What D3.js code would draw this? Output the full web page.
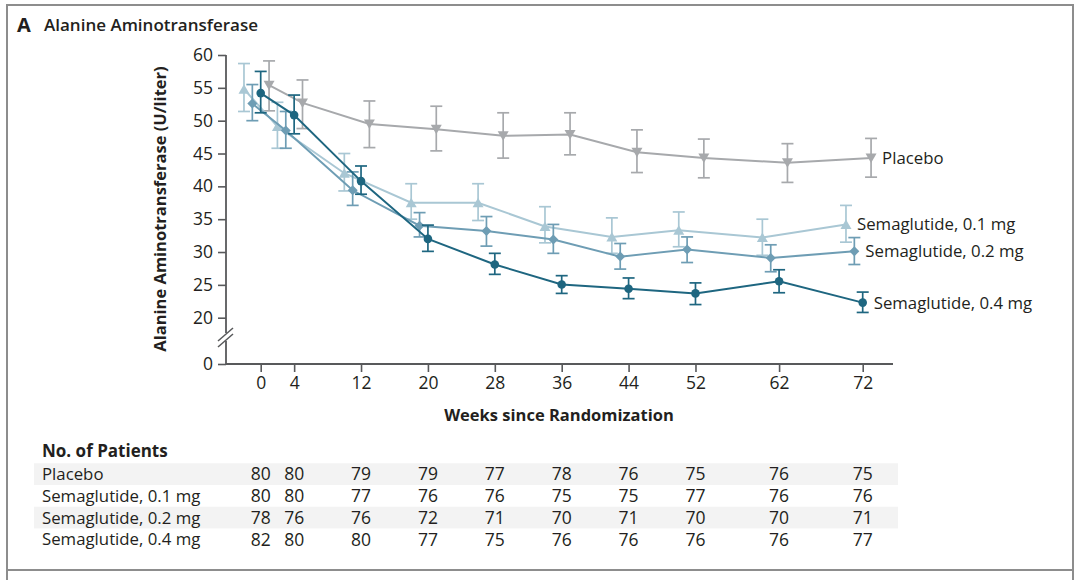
<!DOCTYPE html>
<html>
<head>
<meta charset="utf-8">
<script src="https://cdn.jsdelivr.net/npm/d3@7"></script>
<style>
  html, body { margin: 0; padding: 0; background: #ffffff; }
  svg { display: block; }
  .txt { font-family: "Open Sans", "DejaVu Sans", sans-serif; fill: #231f20; }
  .num { font-family: "Liberation Sans Narrow", "Open Sans", sans-serif; fill: #231f20; }
</style>
</head>
<body>
<svg id="chart" width="1080" height="580"></svg>
<script>
// ---------------- DATA ----------------
const weeks = [0, 4, 12, 20, 28, 36, 44, 52, 62, 72];
const yTicks = [0, 20, 25, 30, 35, 40, 45, 50, 55, 60];
const seriesNames = ["Placebo", "Semaglutide, 0.1 mg", "Semaglutide, 0.2 mg", "Semaglutide, 0.4 mg"];

const placeboMean = [55.4, 52.7, 49.5, 48.7, 47.7, 47.9, 45.2, 44.3, 43.6, 44.3];
const placeboLow  = [51.5, 48.8, 45.9, 45.4, 44.3, 44.8, 42.1, 41.3, 40.6, 41.4];
const placeboHigh = [59.1, 56.2, 53.0, 52.2, 51.2, 51.2, 48.6, 47.2, 46.5, 47.3];

const sema01Mean = [54.8, 49.1, 42.0, 37.5, 37.5, 33.9, 32.3, 33.3, 32.2, 34.2];
const sema01Low  = [51.4, 45.8, 39.3, 35.0, 34.8, 31.4, 29.8, 30.8, 29.5, 31.5];
const sema01High = [58.7, 52.8, 45.0, 40.4, 40.4, 36.9, 35.2, 36.1, 35.0, 37.1];

const sema02Mean = [52.6, 48.5, 39.4, 34.0, 33.2, 31.9, 29.3, 30.4, 29.1, 30.1];
const sema02Low  = [50.0, 45.8, 37.1, 32.3, 30.9, 29.8, 27.4, 28.4, 27.0, 28.1];
const sema02High = [55.5, 51.4, 42.2, 36.0, 35.4, 34.2, 31.3, 32.3, 31.1, 32.2];

const sema04Mean = [54.2, 50.85, 40.8, 32.0, 28.1, 25.05, 24.4, 23.7, 25.55, 22.3];
const sema04Low  = [51.2, 48.0, 38.8, 30.1, 26.6, 23.7, 22.9, 22.0, 23.8, 20.8];
const sema04High = [57.5, 53.9, 43.1, 34.1, 29.8, 26.4, 26.05, 25.3, 27.3, 23.9];

const patientsPlacebo = [80, 80, 79, 79, 77, 78, 76, 75, 76, 75];
const patients01 = [80, 80, 77, 76, 76, 75, 75, 77, 76, 76];
const patients02 = [78, 76, 76, 72, 71, 70, 71, 70, 70, 71];
const patients04 = [82, 80, 80, 77, 75, 76, 76, 76, 76, 77];

// ---------------- STYLE ----------------
const colors = ["#a7a9ac", "#a9c7d4", "#6e9db4", "#1e6680"];
const markers = ["triDown", "triUp", "diamond", "circle"];
const dodge = [1, -2, -1, 0]; // weeks of horizontal offset per series

const series = [
  { name: seriesNames[0], mean: placeboMean, low: placeboLow, high: placeboHigh },
  { name: seriesNames[1], mean: sema01Mean, low: sema01Low, high: sema01High },
  { name: seriesNames[2], mean: sema02Mean, low: sema02Low, high: sema02High },
  { name: seriesNames[3], mean: sema04Mean, low: sema04Low, high: sema04High }
];
const patients = [patientsPlacebo, patients01, patients02, patients04];

const svg = d3.select("#chart");
const axisColor = "#58595b";

// Frame
svg.append("rect").attr("x", 7).attr("y", 5).attr("width", 1066).attr("height", 565)
  .attr("fill", "none").attr("stroke", "#8d8d8d").attr("stroke-width", 2);
svg.append("line").attr("x1", 7).attr("x2", 7).attr("y1", 570).attr("y2", 580).attr("stroke", "#8d8d8d").attr("stroke-width", 2);
svg.append("line").attr("x1", 1073).attr("x2", 1073).attr("y1", 570).attr("y2", 580).attr("stroke", "#8d8d8d").attr("stroke-width", 2);

// Title
svg.append("text").attr("class", "txt").attr("x", 17).attr("y", 32)
  .attr("font-size", 20).attr("font-weight", 700).text("A");
svg.append("text").attr("class", "txt").attr("x", 44).attr("y", 31)
  .attr("font-size", 17).attr("font-weight", 600).text("Alanine Aminotransferase");

// Scales
const x = d3.scaleLinear().domain([0, 72]).range([260.7, 862.7]);
const y = d3.scaleLinear().domain([0, 20, 60]).range([364, 317.7, 55]);

const axisX0 = 226, axisXEnd = 893;

// Y axis (ticks + labels)
const yAxis = d3.axisLeft(y).tickValues(yTicks).tickSize(8).tickPadding(5).tickFormat(d3.format("d"));
const gy = svg.append("g").attr("transform", `translate(${axisX0},0)`).call(yAxis);
gy.select(".domain").remove();
gy.selectAll(".tick line").attr("stroke", axisColor).attr("stroke-width", 1.6);
gy.selectAll(".tick text").attr("class", "num").attr("font-size", 17.5).attr("fill", "#231f20");
// y axis line with break
svg.append("line").attr("x1", axisX0).attr("x2", axisX0).attr("y1", y(60)).attr("y2", 333)
  .attr("stroke", axisColor).attr("stroke-width", 1.8);
svg.append("line").attr("x1", axisX0).attr("x2", axisX0).attr("y1", 341).attr("y2", y(0))
  .attr("stroke", axisColor).attr("stroke-width", 1.8);
[0, 6].forEach(o => {
  svg.append("line").attr("x1", axisX0 - 8).attr("y1", 341 + o).attr("x2", axisX0 + 7).attr("y2", 328 + o)
    .attr("stroke", axisColor).attr("stroke-width", 1.5);
});

// X axis
svg.append("line").attr("x1", axisX0).attr("x2", axisXEnd).attr("y1", y(0)).attr("y2", y(0))
  .attr("stroke", axisColor).attr("stroke-width", 1.8);
const xAxis = d3.axisBottom(x).tickValues(weeks).tickSize(8).tickPadding(5).tickFormat(d3.format("d"));
const gx = svg.append("g").attr("transform", `translate(0,${y(0)})`).call(xAxis);
gx.select(".domain").remove();
gx.selectAll(".tick line").attr("stroke", axisColor).attr("stroke-width", 1.6);
gx.selectAll(".tick text").attr("class", "num").attr("font-size", 17.5).attr("fill", "#231f20");

// Axis titles
svg.append("text").attr("class", "txt").attr("font-size", 16.5).attr("font-weight", 700)
  .attr("text-anchor", "middle")
  .attr("transform", `translate(166,${(68 + 350) / 2}) rotate(-90)`)
  .text("Alanine Aminotransferase (U/liter)");
svg.append("text").attr("class", "txt").attr("font-size", 16.5).attr("font-weight", 700)
  .attr("text-anchor", "middle").attr("x", 559).attr("y", 421)
  .text("Weeks since Randomization");

// Marker generator
function markerPath(type) {
  switch (type) {
    case "triDown": return "M-5.5,-4.5L5.5,-4.5L0,5Z";
    case "triUp": return "M-5.5,4.5L5.5,4.5L0,-5Z";
    case "diamond": return "M0,-5L5,0L0,5L-5,0Z";
    default: return null;
  }
}

const line = d3.line();
series.forEach((s, si) => {
  const g = svg.append("g");
  const px = weeks.map(w => x(w + dodge[si]));
  const col = colors[si];
  // error bars
  weeks.forEach((w, i) => {
    const cx = px[i];
    g.append("line").attr("x1", cx).attr("x2", cx).attr("y1", y(s.low[i])).attr("y2", y(s.high[i]))
      .attr("stroke", col).attr("stroke-width", 1.7);
    [s.low[i], s.high[i]].forEach(v => {
      g.append("line").attr("x1", cx - 6).attr("x2", cx + 6).attr("y1", y(v)).attr("y2", y(v))
        .attr("stroke", col).attr("stroke-width", 1.7);
    });
  });
  // line
  g.append("path").attr("d", line(weeks.map((w, i) => [px[i], y(s.mean[i])])))
    .attr("fill", "none").attr("stroke", col).attr("stroke-width", 2);
  // markers
  weeks.forEach((w, i) => {
    const cx = px[i], cy = y(s.mean[i]);
    if (markers[si] === "circle") {
      g.append("circle").attr("cx", cx).attr("cy", cy).attr("r", 4.3).attr("fill", col);
    } else {
      g.append("path").attr("d", markerPath(markers[si]))
        .attr("transform", `translate(${cx},${cy})`).attr("fill", col);
    }
  });
  // label
  const last = weeks.length - 1;
  svg.append("text").attr("class", "txt").attr("font-size", 16.8)
    .attr("x", px[last] + 11).attr("y", y(s.mean[last])).attr("dy", "0.36em")
    .text(s.name);
});

// Table
svg.append("text").attr("class", "txt").attr("font-size", 17).attr("font-weight", 700)
  .attr("x", 42).attr("y", 457).text("No. of Patients");
const rowTop = 463.3, rowH = 21.7;
patients.forEach((row, ri) => {
  const top = rowTop + ri * rowH;
  if (ri % 2 === 0) {
    svg.append("rect").attr("x", 34).attr("y", top).attr("width", 864).attr("height", rowH)
      .attr("fill", "#f3f3f3");
  }
  svg.append("text").attr("class", "txt").attr("font-size", 16.8)
    .attr("x", 42).attr("y", top + rowH / 2).attr("dy", "0.36em").text(seriesNames[ri]);
  row.forEach((n, i) => {
    svg.append("text").attr("class", "num").attr("font-size", 17.5).attr("text-anchor", "middle")
      .attr("x", x(weeks[i])).attr("y", top + rowH / 2).attr("dy", "0.36em").text(n);
  });
});
</script>
</body>
</html>
